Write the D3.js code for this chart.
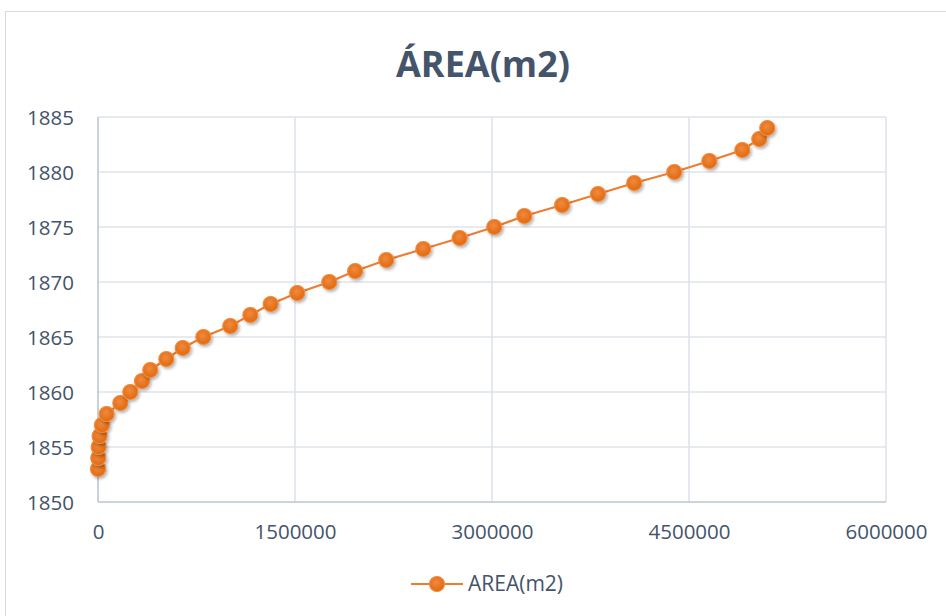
<!DOCTYPE html>
<html><head><meta charset="utf-8">
<script src="https://cdn.jsdelivr.net/npm/d3@7"></script>
<style>body{margin:0;background:#fff}svg{display:block}</style>
</head><body>
<svg id="c" width="946" height="616"></svg>
<script>
const title = "ÁREA(m2)";
const seriesName = "AREA(m2)";
const areaValues = [500, 2000, 5000, 12000, 30000, 66000, 170000, 246000, 335000, 398000, 520000, 645000, 802000, 1007000, 1160000, 1315000, 1517000, 1761000, 1958000, 2195000, 2477000, 2754000, 3017000, 3246000, 3534000, 3807000, 4083000, 4388000, 4655000, 4906000, 5035000, 5096000];
const elevations = [1853,1854,1855,1856,1857,1858,1859,1860,1861,1862,1863,1864,1865,1866,1867,1868,1869,1870,1871,1872,1873,1874,1875,1876,1877,1878,1879,1880,1881,1882,1883,1884];
const xTicks = [0, 1500000, 3000000, 4500000, 6000000];
const yTicks = [1850, 1855, 1860, 1865, 1870, 1875, 1880, 1885];

const font = "'Open Sans',sans-serif";
const textCol = "#44546a";
const svg = d3.select("#c");
const defs = svg.append("defs");
const grad = defs.append("radialGradient").attr("id","mg").attr("cx","45%").attr("cy","40%").attr("r","60%");
grad.append("stop").attr("offset","0%").attr("stop-color","#f08a3e");
grad.append("stop").attr("offset","100%").attr("stop-color","#e0680f");
const sh = defs.append("filter").attr("id","sh").attr("x","-50%").attr("y","-50%").attr("width","200%").attr("height","200%");
sh.append("feDropShadow").attr("dx",1.5).attr("dy",2).attr("stdDeviation",1.5).attr("flood-color","#000").attr("flood-opacity",0.3);

// outer chart border
svg.append("rect").attr("x",5.5).attr("y",11.5).attr("width",946).attr("height",610)
  .attr("fill","#fff").attr("stroke","#d9d9d9").attr("stroke-width",1);

const L=98, R=886, T=117, B=502;
const x = d3.scaleLinear().domain([0,6000000]).range([L,R]);
const y = d3.scaleLinear().domain([1850,1885]).range([B,T]);

const g = svg.append("g");
g.selectAll(".hg").data(yTicks).join("line")
  .attr("x1",L).attr("x2",R).attr("y1",d=>y(d)).attr("y2",d=>y(d))
  .attr("stroke","#dfe3ea").attr("stroke-width",1.6);
g.selectAll(".vg").data(xTicks).join("line")
  .attr("y1",T).attr("y2",B).attr("x1",d=>x(d)).attr("x2",d=>x(d))
  .attr("stroke","#dfe3ea").attr("stroke-width",1.6);
g.append("line").attr("x1",L).attr("x2",R).attr("y1",B).attr("y2",B).attr("stroke","#c5cbd6").attr("stroke-width",1.6);
g.append("line").attr("x1",L).attr("x2",L).attr("y1",T).attr("y2",B).attr("stroke","#c5cbd6").attr("stroke-width",1.6);

const ya = svg.append("g").attr("transform",`translate(${L-21},0)`)
  .call(d3.axisLeft(y).tickValues(yTicks).tickSize(0).tickFormat(d3.format("d")));
ya.select(".domain").remove();
ya.selectAll("text").attr("font-family",font).attr("font-size",20.5).attr("fill",textCol).attr("dy","0.35em");
const xa = svg.append("g").attr("transform",`translate(0,${B+19.5})`)
  .call(d3.axisBottom(x).tickValues(xTicks).tickSize(0).tickFormat(d3.format("d")));
xa.select(".domain").remove();
xa.selectAll("text").attr("font-family",font).attr("font-size",20.5).attr("fill",textCol);

svg.append("text").attr("x",483).attr("y",77).attr("text-anchor","middle")
  .attr("font-family",font).attr("font-weight","bold").attr("font-size",36).attr("fill",textCol).text(title);

const data = areaValues.map((v,i)=>({x:v,y:elevations[i]}));
svg.append("path").datum(data).attr("fill","none").attr("stroke","#ed7d31").attr("stroke-width",2.2)
  .attr("d",d3.line().x(d=>x(d.x)).y(d=>y(d.y)));
svg.append("g").selectAll("circle").data(data).join("circle")
  .attr("cx",d=>x(d.x)).attr("cy",d=>y(d.y)).attr("r",7.5)
  .attr("fill","url(#mg)").attr("stroke","#f28b3c").attr("stroke-width",1.2).attr("filter","url(#sh)");

const lg = svg.append("g");
lg.append("line").attr("x1",411).attr("x2",463).attr("y1",584).attr("y2",584).attr("stroke","#ed7d31").attr("stroke-width",2.2);
lg.append("circle").attr("cx",437).attr("cy",584).attr("r",7.5).attr("fill","url(#mg)").attr("stroke","#f28b3c").attr("stroke-width",1.2);
lg.append("text").attr("x",468).attr("y",584).attr("dy","0.35em").attr("font-family",font).attr("font-size",21).attr("fill",textCol).text(seriesName);
</script>
</body></html>
